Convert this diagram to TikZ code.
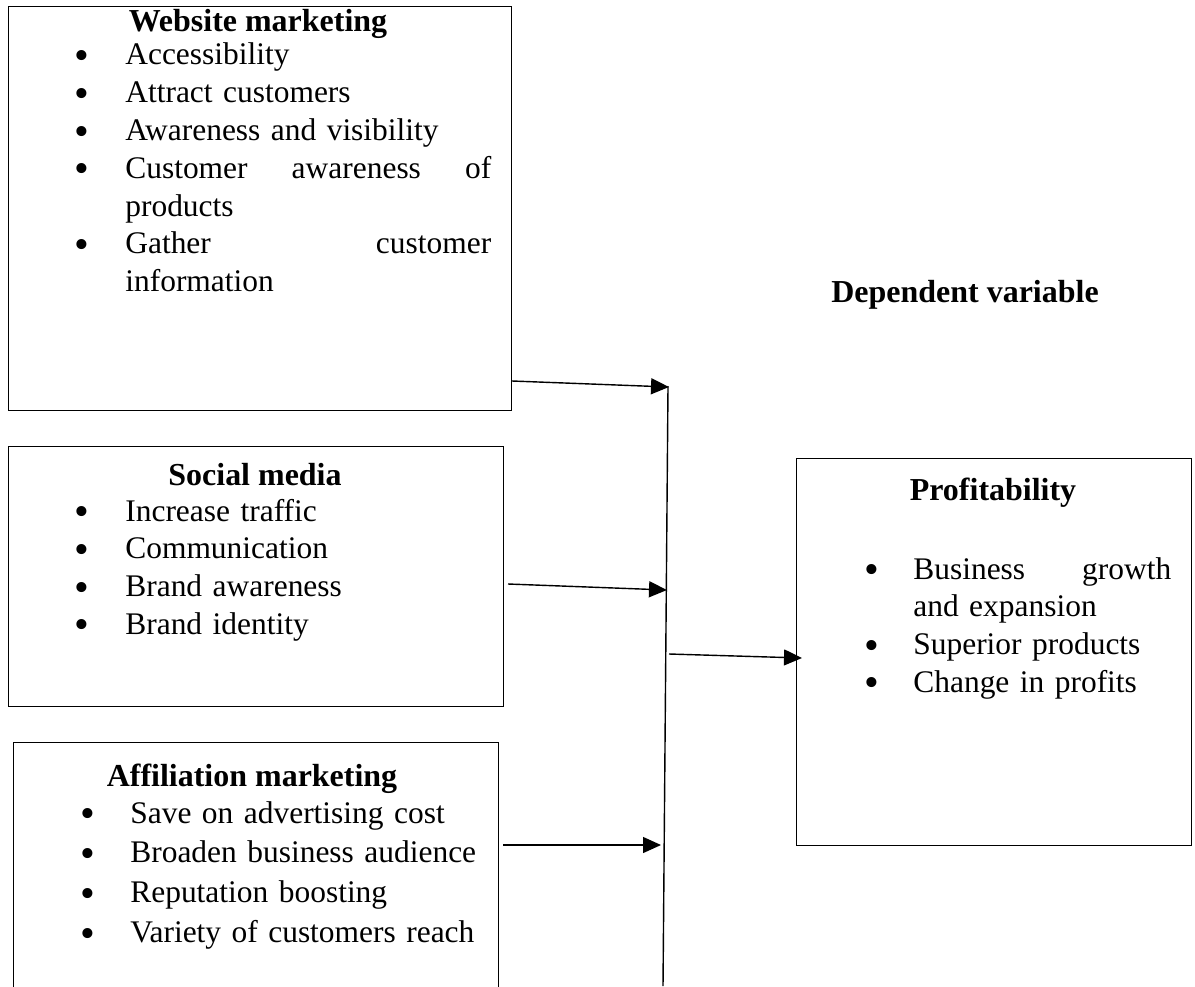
\documentclass[tikz,border=0pt]{standalone}
\usepackage{fontspec}
\setmainfont{Liberation Serif}
\usetikzlibrary{arrows.meta,positioning}

% bullet hung in front of an item, text starts 0.86cm further right
\newcommand{\bul}[1][0.86cm]{\makebox[#1][l]{\makebox[0pt]{\smash{\raisebox{-2.6pt}{\fontsize{24}{24}\selectfont\textbullet}}}}\ignorespaces}
% continuation line of an item
\newcommand{\nobul}[1][0.86cm]{\hspace*{#1}\ignorespaces}

\begin{document}
\begin{tikzpicture}[x=0.02cm,y=-0.02cm,
    >={Triangle[length=0.36cm,width=0.32cm]},
    box/.style={draw,line width=0.8pt,rectangle,anchor=north west,inner sep=0pt},
    head/.style={anchor=base,inner sep=0pt,font=\fontsize{18.2}{22}\selectfont\bfseries},
    items/.style={anchor=base west,inner sep=0pt,text width=#1,
        font=\fontsize{17.9}{21.5}\selectfont},
    link/.style={->,line width=0.8pt}]
    \useasboundingbox (0,0) rectangle (1195,986);
    \clip (0,0) rectangle (1195,986);

    % the four boxes
    \node[box,minimum width=10.06cm,minimum height=8.08cm] (web) at (8,6) {};
    \node[box,minimum width=9.9cm,minimum height=5.2cm] (social) at (8,446) {};
    \node[box,minimum width=9.7cm,minimum height=5.3cm] (affil) at (13,742) {};
    \node[box,minimum width=7.9cm,minimum height=7.74cm] (profit) at (796,458) {};

    % box contents
    \node[head] (webhead) at (258,32) {Website marketing};
    \node[items=9.5cm] (weblist) at (82,65) {%
        \bul Accessibility\\
        \bul Attract customers\\
        \bul Awareness and visibility\\
        \bul\makebox[7.32cm][s]{Customer\hfill awareness\hfill of}\\
        \nobul products\\
        \bul\makebox[7.32cm][s]{Gather\hfill customer}\\
        \nobul information};

    \node[head] (socialhead) at (255,485) {Social media};
    \node[items=9.5cm] (sociallist) at (82,521) {%
        \bul Increase traffic\\
        \bul Communication\\
        \bul Brand awareness\\
        \bul Brand identity};

    \node[head] (affilhead) at (252,786) {Affiliation marketing};
    \node[items=9.5cm] (affillist) at (88,823) {%
        \bul[0.84cm] Save on advertising cost\\[1.2pt]
        \bul[0.84cm] Broaden business audience\\[1.2pt]
        \bul[0.84cm] Reputation boosting\\[1.2pt]
        \bul[0.84cm] Variety of customers reach};

    \node[head] (profithead) at (993,500) {Profitability};
    \node[items=7cm] (profitlist) at (872,579) {%
        \bul[0.82cm]\makebox[5.16cm][s]{Business\hfill growth}\\
        \nobul[0.82cm] and expansion\\
        \bul[0.82cm] Superior products\\
        \bul[0.82cm] Change in profits};

    \node[head] (dephead) at (965,302) {Dependent variable};

    % collecting line and arrows
    \coordinate (bustop) at (668,386);
    \coordinate (busbot) at (663,986);
    \coordinate (webout) at (512,381);
    \coordinate (webin) at (669,387);
    \coordinate (socialout) at (508,584);
    \coordinate (socialin) at (667,590);
    \coordinate (affilout) at (503,845);
    \coordinate (affilin) at (661,845);
    \coordinate (busout) at (669,654);
    \coordinate (profitin) at (802,658);

    \draw[line width=0.8pt] (bustop) -- (busbot);
    \draw[link] (webout) -- (webin);
    \draw[link] (socialout) -- (socialin);
    \draw[link] (affilout) -- (affilin);
    \draw[link] (busout) -- (profitin);
\end{tikzpicture}
\end{document}
